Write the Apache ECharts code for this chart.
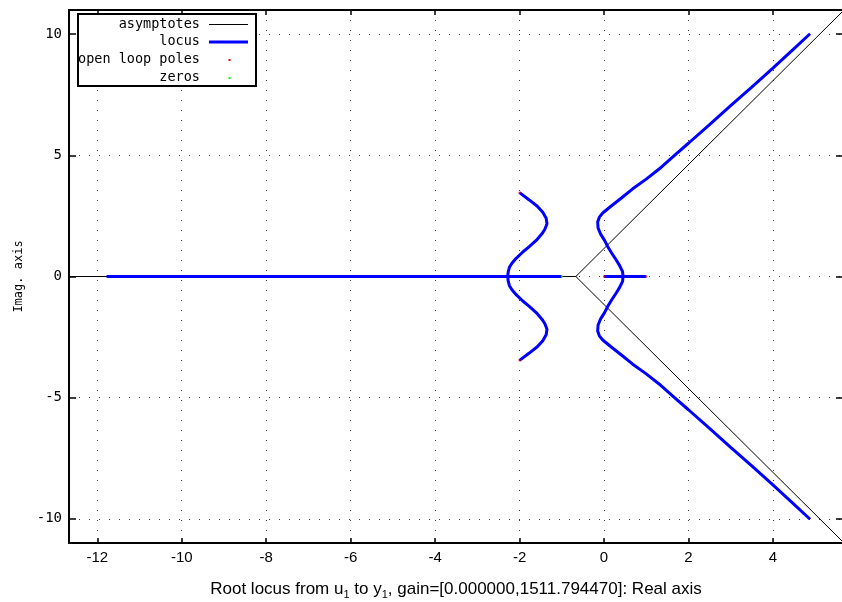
<!DOCTYPE html>
<html><head><meta charset="utf-8">
<script src="https://cdn.jsdelivr.net/npm/echarts@6/dist/echarts.min.js"></script>
<style>html,body{margin:0;padding:0;background:#fff}#c{width:842px;height:602px}</style>
</head><body><div id="c"></div>
<script>
// ---- data ----
const xTicks = [-12, -10, -8, -6, -4, -2, 0, 2, 4];
const yTicks = [-10, -5, 0, 5, 10];
const xRange = [-12.67, 5.66];
const yRange = [-11, 11];

const asymptoteReal = [[-12.67, 0], [-0.667, 0]];
const asymptoteDiag = [[5.684, 11], [-0.667, 0], [5.684, -11]];

const locusRealLeft = [[-11.78, 0], [-1.0, 0]];
const locusRealRight = [[0, 0], [1.0, 0]];

const locusLeftUpper = [[-2.0, 3.46], [-1.77, 3.16], [-1.58, 2.9], [-1.45, 2.65], [-1.37, 2.4], [-1.35, 2.18],
  [-1.4, 1.95], [-1.47, 1.76], [-1.6, 1.5], [-1.77, 1.23], [-1.93, 1.0], [-2.08, 0.75], [-2.18, 0.55],
  [-2.24, 0.38], [-2.27, 0.18], [-2.28, 0]];
const locusLeftLower = [[-2.0, -3.46], [-1.77, -3.16], [-1.58, -2.9], [-1.45, -2.65], [-1.37, -2.4], [-1.35, -2.18],
  [-1.4, -1.95], [-1.47, -1.76], [-1.6, -1.5], [-1.77, -1.23], [-1.93, -1.0], [-2.08, -0.75], [-2.18, -0.55],
  [-2.24, -0.38], [-2.27, -0.18], [-2.28, 0]];

const locusRightUpper = [[0.45, 0], [0.44, 0.2], [0.37, 0.45], [0.29, 0.68], [0.18, 0.97], [0.09, 1.23],
  [0.01, 1.5], [-0.08, 1.75], [-0.14, 2.0], [-0.15, 2.25], [-0.11, 2.45], [-0.03, 2.62], [0.15, 2.88],
  [0.42, 3.25], [0.68, 3.62], [1.0, 4.02], [1.35, 4.5], [1.67, 5.0], [2.0, 5.5], [2.5, 6.27], [3.0, 7.05],
  [3.5, 7.82], [4.0, 8.6], [4.45, 9.32], [4.88, 10.02]];
const locusRightLower = [[0.45, 0], [0.44, -0.2], [0.37, -0.45], [0.29, -0.68], [0.18, -0.97], [0.09, -1.23],
  [0.01, -1.5], [-0.08, -1.75], [-0.14, -2.0], [-0.15, -2.25], [-0.11, -2.45], [-0.03, -2.62], [0.15, -2.88],
  [0.42, -3.25], [0.68, -3.62], [1.0, -4.02], [1.35, -4.5], [1.67, -5.0], [2.0, -5.5], [2.5, -6.27], [3.0, -7.05],
  [3.5, -7.82], [4.0, -8.6], [4.45, -9.32], [4.88, -10.02]];

const openLoopPoles = [[-2, 3.46], [-2, -3.46], [0, 0], [1, 0]];
const zeros = [[-1, 0]];

const legendItems = ['asymptotes', 'locus', 'open loop poles', 'zeros'];
const xTitle = 'Root locus from u{sub|1} to y{sub|1}, gain=[0.000000,1511.794470]: Real axis';
const yTitle = 'Imag. axis';

// ---- chart ----
const chart = echarts.init(document.getElementById('c'), null, { renderer: 'canvas' });
const mono = '"DejaVu Sans Mono", "Liberation Mono", monospace';
const sans = '"Liberation Sans", Arial, sans-serif';
const dotted = { color: '#3a3a3a', width: 1, type: [1, 9] };

function xAx(pos, main) {
  return {
    type: 'value', position: pos, min: xRange[0], max: xRange[1],
    axisLine: { show: true, onZero: false, lineStyle: { color: '#000', width: 2 } },
    axisTick: { show: true, inside: true, length: 5, customValues: xTicks, lineStyle: { color: '#000', width: 1.5 } },
    axisLabel: { show: main, customValues: xTicks, margin: 7, color: '#000', fontSize: 15, fontFamily: sans },
    splitLine: { show: main, lineStyle: dotted },
    name: main ? xTitle : '', nameLocation: 'middle', nameGap: 35,
    nameTextStyle: { color: '#000', fontSize: 17, fontFamily: sans,
      rich: { sub: { fontSize: 11, fontFamily: sans, color: '#000', verticalAlign: 'bottom', lineHeight: 22 } } }
  };
}
function yAx(pos, main) {
  return {
    type: 'value', position: pos, min: yRange[0], max: yRange[1],
    axisLine: { show: true, onZero: false, lineStyle: { color: '#000', width: 2 } },
    axisTick: { show: true, inside: true, length: 7, customValues: yTicks, lineStyle: { color: '#000', width: 1.5 } },
    axisLabel: { show: main, customValues: yTicks, margin: 7, color: '#000', fontSize: 14, fontFamily: mono },
    splitLine: { show: main, lineStyle: dotted },
    name: main ? yTitle : '', nameLocation: 'middle', nameGap: 44, nameRotate: 90,
    nameTextStyle: { color: '#000', fontSize: 12, fontFamily: mono }
  };
}

const blue = '#0000ff';
function line(name, data, color, width, z) {
  return { name, type: 'line', data, showSymbol: false, symbol: 'none', silent: true, animation: false,
    lineStyle: { color, width }, itemStyle: { color }, z, clip: true };
}

const legendX = 78, legendY = 14, rowH = 17.8, textRight = 200;
const legendGraphics = [
  { type: 'rect', shape: { x: legendX, y: legendY, width: 178, height: 72 },
    style: { fill: '#fff', stroke: '#000', lineWidth: 2 }, z: 100 }
];
legendItems.forEach((t, i) => {
  const cy = legendY + 10 + i * rowH;
  legendGraphics.push({ type: 'text', x: textRight, y: cy, z: 101,
    style: { text: t, fill: '#000', font: '13.5px ' + mono, textAlign: 'right', textVerticalAlign: 'middle' } });
});
legendGraphics.push({ type: 'line', shape: { x1: 209, y1: 24.5, x2: 248, y2: 24.5 }, style: { stroke: '#000', lineWidth: 1 }, z: 101 });
legendGraphics.push({ type: 'line', shape: { x1: 209, y1: 42, x2: 248, y2: 42 }, style: { stroke: blue, lineWidth: 3 }, z: 101 });
legendGraphics.push({ type: 'rect', shape: { x: 228.5, y: 59, width: 2, height: 2 }, style: { fill: '#ff0000' }, z: 101 });
legendGraphics.push({ type: 'rect', shape: { x: 228.5, y: 77, width: 2, height: 2 }, style: { fill: '#00ff00' }, z: 101 });

chart.setOption({
  animation: false,
  backgroundColor: '#fff',
  grid: { left: 69, right: -1, top: 10, bottom: 59, containLabel: false, outerBoundsMode: 'none' },
  xAxis: [xAx('bottom', true), xAx('top', false)],
  yAxis: [yAx('left', true), yAx('right', false)],
  graphic: legendGraphics,
  series: [
    line('asymptotes', asymptoteReal, '#000', 1, 2),
    line('asymptotes', asymptoteDiag, '#000', 1, 2),
    line('locus', locusRealLeft, blue, 3, 3),
    line('locus', locusRealRight, blue, 3, 3),
    line('locus', locusLeftUpper, blue, 3, 3),
    line('locus', locusLeftLower, blue, 3, 3),
    line('locus', locusRightUpper, blue, 3, 3),
    line('locus', locusRightLower, blue, 3, 3),
    { name: 'open loop poles', type: 'scatter', data: openLoopPoles, symbol: 'rect', symbolSize: 2,
      itemStyle: { color: '#ff0000' }, z: 4, silent: true },
    { name: 'zeros', type: 'scatter', data: zeros, symbol: 'rect', symbolSize: 2,
      itemStyle: { color: '#00ff00' }, z: 4, silent: true }
  ]
});
</script></body></html>
